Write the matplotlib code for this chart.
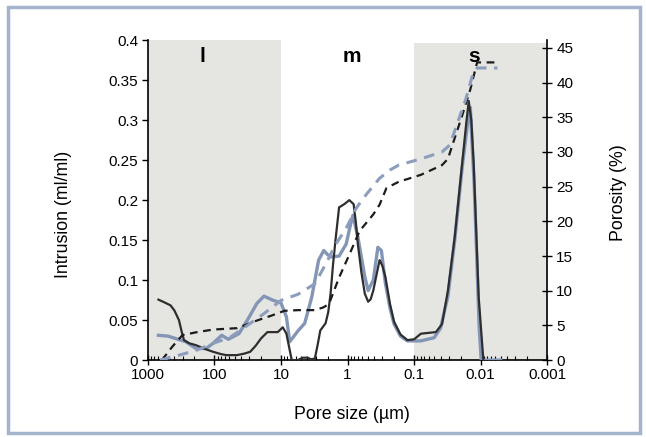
import matplotlib
matplotlib.use("Agg")
import matplotlib.pyplot as plt
from matplotlib.patches import Rectangle
from matplotlib.ticker import LogLocator, NullFormatter, FixedLocator

plt.rcParams['font.family'] = ['Liberation Sans', 'DejaVu Sans']

# pore size (um) and differential intrusion (ml/ml)
dark_x = [695, 560, 459, 400, 342, 310, 287, 240, 190, 140, 105, 80, 66, 46, 36,
          29, 24, 20, 16, 11.2, 9.4, 8.3, 6.9, 5.6, 4.7, 4.0, 3.5, 3.1, 2.8,
          2.57, 2.14, 1.95, 1.8, 1.65, 1.5, 1.34, 1.12, 0.94, 0.81, 0.75, 0.7,
          0.62, 0.55, 0.49, 0.45, 0.41, 0.36, 0.33, 0.3, 0.27, 0.23, 0.2, 0.16,
          0.126, 0.1, 0.079, 0.047, 0.038, 0.031, 0.0245, 0.019, 0.0165,
          0.0151, 0.0138, 0.0127, 0.0107, 0.0091]
dark_y = [0.0756, 0.072, 0.0685, 0.062, 0.05, 0.035, 0.025, 0.021, 0.0187,
          0.014, 0.0104, 0.0075, 0.0062, 0.0062, 0.008, 0.0104, 0.018, 0.027,
          0.035, 0.035, 0.041, 0.033, 0.0, 0.0, 0.003, 0.003, 0.001, 0.002,
          0.02, 0.037, 0.046, 0.06, 0.083, 0.12, 0.154, 0.191, 0.195, 0.200,
          0.195, 0.172, 0.145, 0.11, 0.083, 0.073, 0.076, 0.087, 0.11, 0.125,
          0.118, 0.104, 0.07, 0.048, 0.032, 0.025, 0.026, 0.033, 0.035, 0.045,
          0.087, 0.154, 0.245, 0.295, 0.324, 0.3, 0.245, 0.079, 0.0]

blue_x = [695, 500, 385, 270, 190, 133, 105, 78, 62, 43, 32, 23, 18, 13.4, 10,
          8.3, 7.4, 5.5, 4.4, 3.45, 2.72, 2.28, 2.0, 1.8, 1.34, 1.05, 0.9,
          0.83, 0.7, 0.55, 0.49, 0.41, 0.35, 0.31, 0.27, 0.23, 0.2, 0.16,
          0.126, 0.079, 0.05, 0.04, 0.031, 0.0245, 0.019, 0.0155, 0.0143,
          0.0125, 0.0105, 0.0098, 0.005]
blue_y = [0.031, 0.03, 0.027, 0.023, 0.0145, 0.0145, 0.021, 0.031, 0.026,
          0.033, 0.05, 0.071, 0.08, 0.075, 0.0715, 0.054, 0.023, 0.037, 0.046,
          0.079, 0.125, 0.137, 0.132, 0.129, 0.13, 0.145, 0.17, 0.181, 0.154,
          0.104, 0.087, 0.1, 0.141, 0.137, 0.096, 0.065, 0.045, 0.03, 0.024,
          0.024, 0.028, 0.04, 0.08, 0.15, 0.24, 0.3, 0.316, 0.22, 0.04, 0.0,
          0.0]

# cumulative porosity (%)
cum_dark_x = [616, 433, 303, 190, 105, 46, 23, 14, 8.9, 5.5, 3.1, 2.3, 1.9,
              1.34, 0.94, 0.66, 0.41, 0.33, 0.26, 0.17, 0.079, 0.038, 0.031,
              0.0257, 0.019, 0.0143, 0.0113, 0.0056]
cum_dark_y = [0, 1.9, 3.6, 4.0, 4.4, 4.6, 5.7, 6.4, 7.1, 7.2, 7.2, 7.6, 8.1,
              11.9, 15.2, 18.6, 21.0, 22.4, 24.8, 25.7, 26.7, 28.1, 29.0, 31.4,
              35.2, 39.0, 42.9, 42.9]

cum_blue_x = [655, 342, 190, 105, 58, 32, 18, 10, 5.5, 3.1, 2.14, 1.5, 1.05,
              0.74, 0.53, 0.33, 0.23, 0.17, 0.079, 0.038, 0.029, 0.023, 0.0167,
              0.0133, 0.0113, 0.0056]
cum_blue_y = [0, 0.7, 1.4, 2.4, 3.3, 5.0, 6.7, 8.6, 9.5, 11.0, 13.8, 16.7, 19.0,
              21.9, 23.8, 26.2, 27.4, 28.1, 29.0, 30.0, 31.0, 33.8, 37.6, 41.0,
              42.1, 42.1]

bands = [(1000, 10, 1.0), (0.1, 0.001, 0.99)]
labels = [('l', 150), ('m', 0.87), ('s', 0.0125)]

fig = plt.figure(figsize=(6.46, 4.37), dpi=100)
ax = fig.add_axes([0.229, 0.176, 0.618, 0.732])
ax2 = ax.twinx()

for a, b, top in bands:
    ax.axvspan(a, b, ymax=top, color='#e5e5e2', zorder=0, lw=0)

ax.plot(dark_x, dark_y, color='#2e2e2e', lw=1.6, zorder=4)
ax.plot(blue_x, blue_y, color='#8396b6', lw=2.4, zorder=3)
ax2.plot(cum_dark_x, cum_dark_y, color='#1c1c1c', lw=1.6, ls=(0, (3.5, 2.5)))
ax2.plot(cum_blue_x, cum_blue_y, color='#8c9dbd', lw=2.2, ls=(0, (3.5, 2.5)))

ax.set_xscale('log')
ax.set_xlim(1000, 0.001)
ax.set_ylim(0, 0.4)
ax2.set_ylim(0, 46.1)
ax.set_yticks([0, 0.05, 0.1, 0.15, 0.2, 0.25, 0.3, 0.35, 0.4])
ax.set_yticklabels(['0', '0.05', '0.1', '0.15', '0.2', '0.25', '0.3', '0.35', '0.4'])
ax2.set_yticks(range(0, 50, 5))
ax.xaxis.set_major_locator(FixedLocator([1000, 100, 10, 1, 0.1, 0.01, 0.001]))
ax.set_xticklabels(['1000', '100', '10', '1', '0.1', '0.01', '0.001'])
ax.xaxis.set_minor_locator(LogLocator(base=10, subs=range(2, 10)))
ax.xaxis.set_minor_formatter(NullFormatter())

for s in ['top', 'right']:
    ax.spines[s].set_visible(False)
for s in ['top', 'left', 'bottom']:
    ax2.spines[s].set_visible(False)
ax.spines['left'].set_linewidth(1.2)
ax.spines['bottom'].set_linewidth(1.2)
ax2.spines['right'].set_linewidth(1.2)

ax.tick_params(axis='y', direction='out', length=4, width=1, labelsize=11, pad=3)
ax.tick_params(axis='x', which='major', direction='inout', length=7, width=1,
               labelsize=11, pad=2)
ax.tick_params(axis='x', which='minor', direction='in', length=3, width=0.8)
ax2.tick_params(axis='y', direction='inout', length=7, width=1, labelsize=11, pad=3)

ax.set_ylabel('Intrusion (ml/ml)', fontsize=12.8)
ax2.set_ylabel('Porosity (%)', fontsize=12.8)
ax.set_xlabel('Pore size (µm)', fontsize=12.8)
ax.yaxis.set_label_coords(-0.19, 0.456)
ax2.yaxis.set_label_coords(1.158, 0.522)
ax.xaxis.set_label_coords(0.51, -0.145)

for txt, xv in labels:
    ax.text(xv, 0.379, txt, fontsize=15, fontweight='bold', ha='center',
            va='center', zorder=6)

fig.patches.append(Rectangle((8 / 646, 4 / 437), 632 / 646, 426 / 437,
                             transform=fig.transFigure, fill=False,
                             edgecolor='#a3b4cc', lw=2.5))

fig.savefig('out.png', dpi=100)
